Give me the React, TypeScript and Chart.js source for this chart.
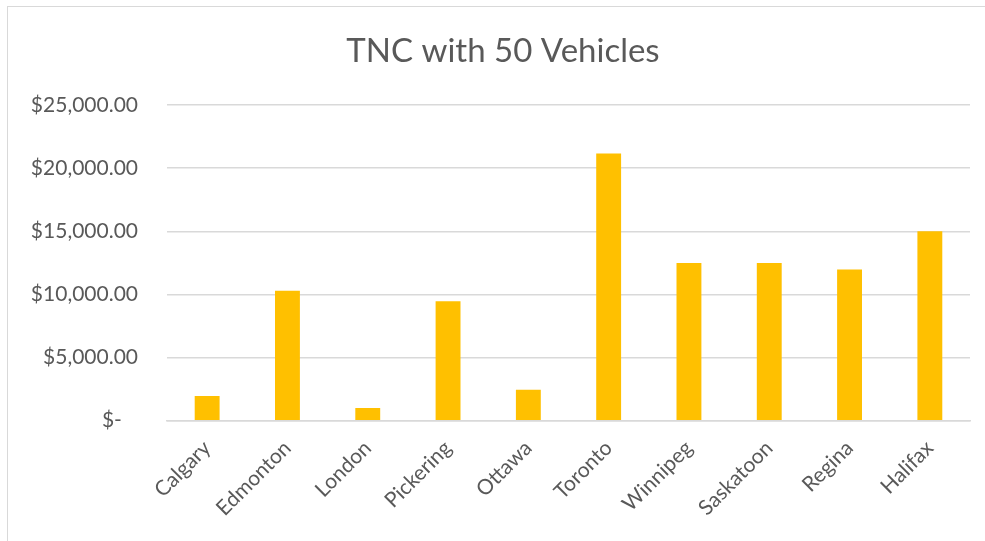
import React, { useEffect, useRef } from "react";
import { Chart, registerables } from "chart.js";

Chart.register(...registerables);

const TITLE = "TNC with 50 Vehicles";
const CITIES = ["Calgary", "Edmonton", "London", "Pickering", "Ottawa", "Toronto", "Winnipeg", "Saskatoon", "Regina", "Halifax"];
const COSTS = [1950, 10300, 1000, 9450, 2450, 21150, 12480, 12480, 11980, 15000];
const Y_MAX = 25000;
const Y_STEP = 5000;

const FONT = "Lato, 'Open Sans', sans-serif";
const TEXT = "#595959";

function fmt(v: number): string {
  if (v === 0) return "$-   ";
  return "$" + v.toLocaleString("en-US", { minimumFractionDigits: 2, maximumFractionDigits: 2 });
}

const titlePlugin = {
  id: "excelTitle",
  afterDraw(chart: any) {
    const c = chart.ctx;
    c.save();
    c.font = `normal 33px ${FONT}`;
    c.fillStyle = TEXT;
    c.textAlign = "center";
    c.textBaseline = "alphabetic";
    c.fillText(TITLE, 503, 61.5);
    c.restore();
  },
};

export default function App() {
  const ref = useRef<HTMLCanvasElement | null>(null);
  useEffect(() => {
    document.body.style.overflow = "hidden";
    const ctx = ref.current!.getContext("2d")!;
    const chart = new Chart(ctx, {
      type: "bar",
      data: {
        labels: CITIES,
        datasets: [
          {
            data: COSTS,
            backgroundColor: "#FFC000",
            borderWidth: 0,
            categoryPercentage: 1,
            barPercentage: 0.31,
          },
        ],
      },
      plugins: [titlePlugin],
      options: {
        animation: false,
        responsive: false,
        maintainAspectRatio: false,
        layout: { padding: { left: 0, right: 15, top: 105, bottom: 0 } },
        plugins: {
          legend: { display: false },
          tooltip: { enabled: false },
          title: { display: false },
        },
        scales: {
          x: {
            grid: { display: false, drawTicks: false },
            border: { display: true, color: "#d9d9d9", width: 1.5 },
            ticks: {
              color: TEXT,
              font: { family: FONT, size: 21 },
              minRotation: 45,
              maxRotation: 45,
              padding: 15,
              autoSkip: false,
            },
            afterFit: (s: any) => {
              s.height = 120.3;
            },
          },
          y: {
            min: 0,
            max: Y_MAX,
            grid: { color: "#d9d9d9", lineWidth: 1.5, drawTicks: false },
            border: { display: false },
            ticks: {
              stepSize: Y_STEP,
              color: TEXT,
              font: { family: FONT, size: 21 },
              padding: 29,
              callback: (v: any) => fmt(Number(v)),
            },
            afterFit: (s: any) => {
              s.width = 167;
            },
          },
        },
      },
    });
    return () => chart.destroy();
  }, []);
  return (
    <div>
      <div
        style={{
          position: "fixed",
          left: 7,
          top: 6,
          width: 1000,
          height: 600,
          border: "1px solid #d9d9d9",
          boxSizing: "border-box",
        }}
      />
      <canvas
        ref={ref}
        width={985}
        height={541}
        style={{ position: "fixed", left: 0, top: 0, width: 985, height: 541 }}
      />
    </div>
  );
}
